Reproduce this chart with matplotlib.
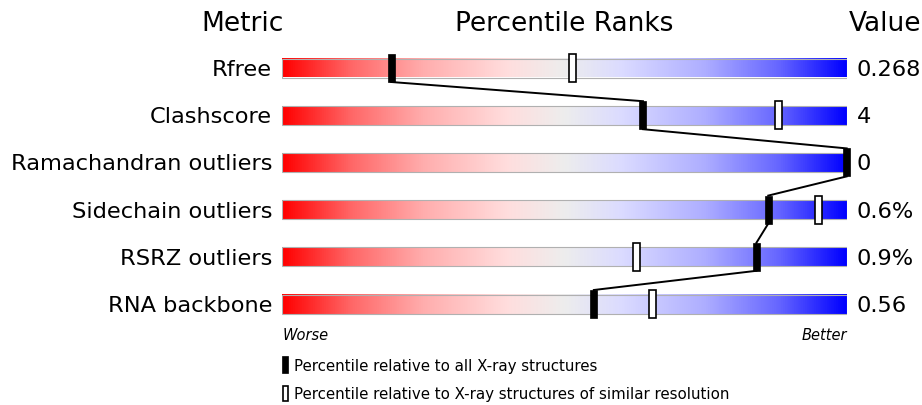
import numpy as np
import matplotlib
matplotlib.use("Agg")
import matplotlib.pyplot as plt
from matplotlib.colors import LinearSegmentedColormap
from matplotlib.patches import Rectangle

# -------------------------------
# Datos
# -------------------------------
metrics = ["Rfree", "Clashscore", "Ramachandran outliers",
           "Sidechain outliers", "RSRZ outliers", "RNA backbone"]
values = ["0.268", "4", "0", "0.6%", "0.9%", "0.56"]
pct_all = [19.3, 63.9, 100.0, 86.1, 84.0, 55.2]
pct_similar = [51.4, 88.0, None, 95.0, 62.7, 65.6]

# -------------------------------
# Figura
# -------------------------------
W, H = 922, 405
fig = plt.figure(figsize=(W / 100, H / 100), dpi=100)

bar_l, bar_r = 282.3, 846.7
row0, row_step = 68.0, 47.2
n = len(metrics)
top_px = row0 - row_step / 2
bot_px = row0 + (n - 1) * row_step + row_step / 2
ax = fig.add_axes([bar_l / W, 1 - bot_px / H, (bar_r - bar_l) / W, (bot_px - top_px) / H])
ax.set_xlim(0, 100)
ax.set_ylim(n - 0.5, -0.5)
ax.axis("off")

cmap = LinearSegmentedColormap.from_list("slider", [
    (0.00, (1.00, 0.00, 0.00)),
    (0.12, (1.00, 0.40, 0.40)),
    (0.25, (1.00, 0.68, 0.68)),
    (0.40, (1.00, 0.87, 0.87)),
    (0.50, (0.93, 0.93, 0.93)),
    (0.60, (0.86, 0.86, 1.00)),
    (0.75, (0.68, 0.68, 1.00)),
    (0.88, (0.40, 0.40, 1.00)),
    (1.00, (0.00, 0.00, 1.00)),
])
grad = np.linspace(0, 1, 512).reshape(1, -1)

bar_h = 19 / row_step
mk_h = 28 / row_step
mk_w = 7 / (bar_r - bar_l) * 100

for i in range(n):
    ax.imshow(grad, cmap=cmap, aspect="auto", extent=(0, 100, i + bar_h / 2, i - bar_h / 2),
              interpolation="bilinear", zorder=1)
    ax.add_patch(Rectangle((0, i - bar_h / 2), 100, bar_h, fill=False,
                           edgecolor="#b0b0b0", linewidth=0.8, zorder=2))

# Línea que une los percentiles
for i in range(n - 1):
    ax.plot([pct_all[i], pct_all[i + 1]], [i + mk_h / 2, i + 1 - mk_h / 2],
            color="black", linewidth=1.4, zorder=3, clip_on=False)

for i in range(n):
    if pct_similar[i] is not None:
        ax.add_patch(Rectangle((pct_similar[i] - mk_w / 2, i - mk_h / 2), mk_w, mk_h,
                               facecolor="white", edgecolor="black", linewidth=1.2,
                               zorder=4, clip_on=False))
    ax.add_patch(Rectangle((pct_all[i] - mk_w / 2, i - mk_h / 2), mk_w, mk_h,
                           facecolor="black", edgecolor="black", linewidth=0.5,
                           zorder=5, clip_on=False))
    ax.text(-1.8, i, metrics[i], ha="right", va="center_baseline", fontsize=16.2, clip_on=False)
    ax.text(101.8, i, values[i], ha="left", va="center_baseline", fontsize=16.2, clip_on=False)

# Encabezados
fig.text(242.5 / W, 1 - 24 / H, "Metric", ha="center", va="center", fontsize=19)
fig.text(564 / W, 1 - 24 / H, "Percentile Ranks", ha="center", va="center", fontsize=19)
fig.text(885 / W, 1 - 24 / H, "Value", ha="center", va="center", fontsize=19)

fig.text(bar_l / W, 1 - 336 / H, "Worse", ha="left", va="center", fontsize=10.5, style="italic")
fig.text(bar_r / W, 1 - 336 / H, "Better", ha="right", va="center", fontsize=10.5, style="italic")

# Leyenda
fig.patches.append(Rectangle((282 / W, 1 - 372.5 / H), 5.5 / W, 16.5 / H, facecolor="black",
                             edgecolor="black", linewidth=0.5, transform=fig.transFigure))
fig.patches.append(Rectangle((282.5 / W, 1 - 401 / H), 5 / W, 15 / H, facecolor="white",
                             edgecolor="black", linewidth=1.2, transform=fig.transFigure))
fig.text(294 / W, 1 - 366 / H, "Percentile relative to all X-ray structures",
         ha="left", va="center", fontsize=10.8)
fig.text(294 / W, 1 - 395 / H, "Percentile relative to X-ray structures of similar resolution",
         ha="left", va="center", fontsize=10.8)

fig.savefig("out.png", dpi=100, facecolor="white")
